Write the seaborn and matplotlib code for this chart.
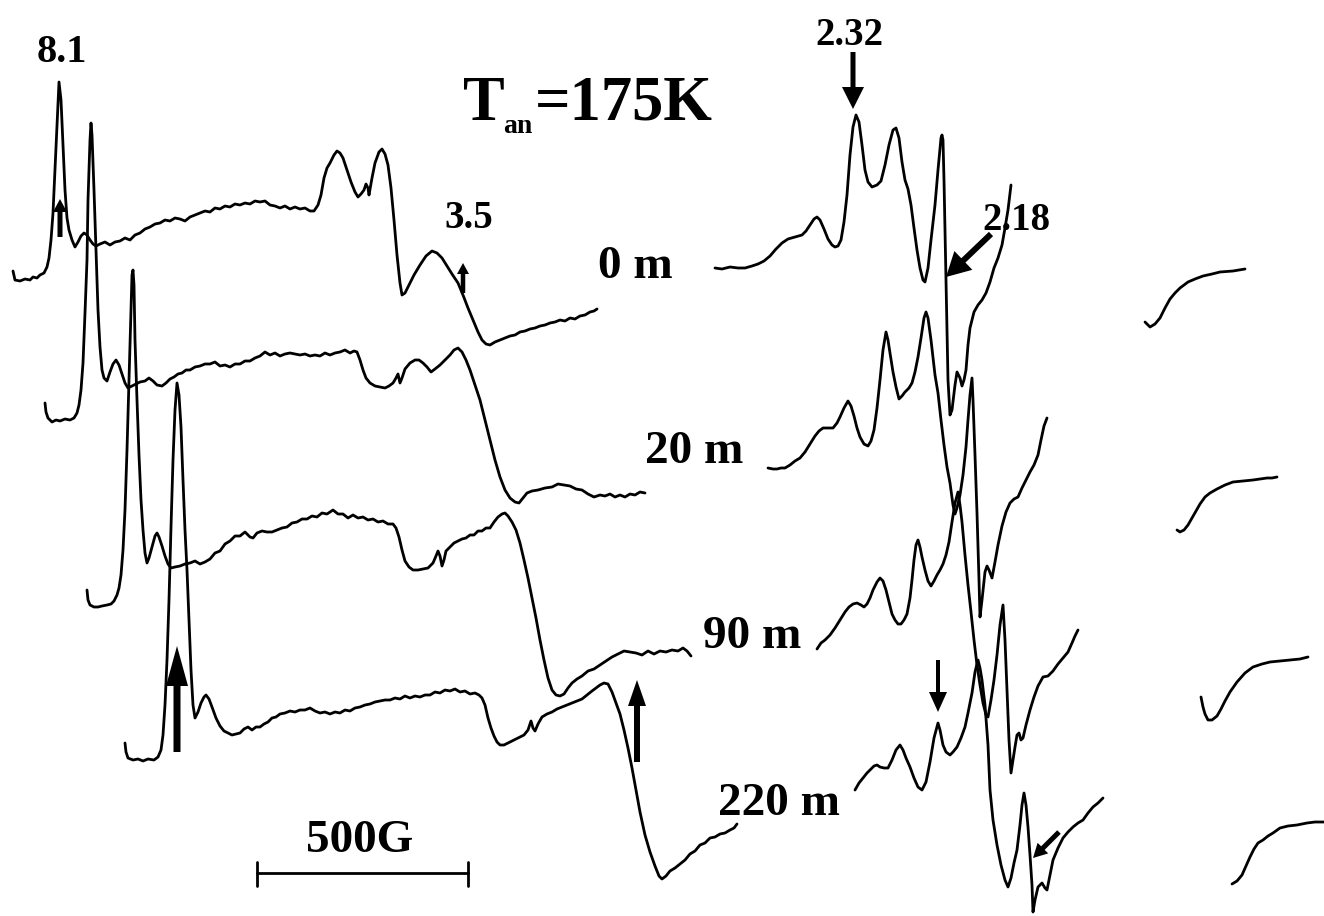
import numpy as np
import pandas as pd
import matplotlib
matplotlib.use("Agg")
import matplotlib.pyplot as plt
import seaborn as sns

# ---------------- data (field position, signal) ----------------
# 0 m spectrum
s0_lo_x = [13, 15, 20, 25, 30, 33, 37, 40, 44, 47, 49, 51, 53, 55, 57, 59, 61, 63, 65, 67, 69, 72, 75, 78, 81, 84, 87, 90, 93, 96,
           100, 105, 110, 115, 120, 125, 130, 135, 140, 145, 150, 155, 160, 165, 170, 175, 180, 185, 190, 195, 200, 205, 210,
           215, 220, 225, 230, 235, 240, 245, 250, 255, 260, 265, 270, 275, 280, 285, 290, 295, 300, 305, 310, 314,
           318, 321, 324, 327, 330, 334, 337, 340, 343, 347, 351, 355, 358, 361, 364, 366, 368, 369, 372, 375, 379, 382, 385,
           388, 391, 394, 397, 400, 402, 405, 409, 414, 420, 426, 432, 437, 442, 447, 452, 458, 463, 468, 473, 478, 482, 486,
           490, 495, 500, 505, 510, 515, 520, 525, 530, 535, 540, 545, 550, 555, 560, 565, 570, 575, 580, 585, 590, 594, 597]
s0_lo_y = [271, 280, 281, 279, 280, 277, 278, 275, 273, 267, 258, 240, 213, 170, 125, 82, 100, 145, 190, 218, 230, 240, 247, 242,
           236, 233, 235, 240, 244, 246,
           244, 242, 245, 242, 241, 238, 240, 235, 233, 229, 227, 224, 223, 220, 221, 218, 219, 221, 217, 215, 213, 211, 212,
           208, 209, 206, 207, 204, 205, 203, 204, 201, 202, 201, 205, 206, 208, 206, 209, 207, 209, 208, 211, 211,
           205, 195, 178, 168, 163, 155, 151, 153, 158, 170, 182, 192, 197, 194, 190, 184, 188, 195, 178, 163, 152, 149, 154,
           165, 188, 220, 255, 283, 295, 293, 285, 275, 265, 256, 251, 253, 258, 266, 274, 283, 295, 308, 320, 332, 340, 344,
           345, 342, 340, 338, 336, 335, 332, 331, 329, 328, 326, 325, 323, 322, 320, 321, 318, 319, 316, 315, 312, 311, 309]
s0_mid_x = [715, 722, 730, 738, 745, 752, 758, 764, 770, 776, 782, 788, 795, 802, 806, 810, 814, 817, 820, 824, 828, 832, 835, 838,
            841, 844, 847, 850, 853, 856, 859, 862, 865, 868, 872, 877, 881, 885, 889, 893, 896, 899, 902, 905, 908, 911, 914,
            917, 920, 923, 925, 928, 931, 935, 938, 941, 942, 943, 944, 945, 946, 947, 948, 950, 952, 955, 957, 960, 962, 964,
            966, 968, 970, 974, 978, 982, 986, 990, 994, 998, 1002, 1005, 1008, 1011]
s0_mid_y = [268, 269, 267, 268, 268, 266, 264, 261, 256, 249, 243, 239, 237, 235, 231, 225, 219, 217, 220, 229, 239, 245, 247, 246,
            240, 222, 195, 155, 127, 115, 122, 145, 170, 182, 187, 185, 181, 165, 145, 130, 128, 138, 162, 180, 189, 205, 228,
            250, 268, 280, 282, 268, 240, 205, 170, 138, 135, 140, 180, 230, 280, 330, 380, 415, 410, 385, 372, 378, 386, 380,
            370, 345, 328, 312, 305, 300, 293, 282, 268, 258, 245, 228, 210, 185]
s0_hi_x = [1145, 1150, 1155, 1160, 1165, 1170, 1175, 1180, 1188, 1195, 1203, 1212, 1220, 1233, 1245]
s0_hi_y = [322, 327, 324, 318, 308, 299, 293, 288, 282, 279, 276, 274, 272, 271, 269]

# 20 m spectrum
s1_lo_x = [45, 46, 48, 52, 56, 60, 65, 70, 74, 77, 79, 81, 83, 85, 87, 88, 90, 91, 92, 94, 96, 98, 100, 102, 104, 107, 110, 113,
           116, 119, 122, 125, 128, 132, 136, 140, 145, 149, 153, 157, 162, 166, 170, 174, 178, 182, 186, 190, 195, 200, 205,
           210, 215, 220, 225, 230, 235, 240, 245, 250, 255, 260, 265, 270, 275, 280, 285, 290, 295, 300, 305, 310, 315, 320,
           325, 330, 335, 340, 345, 350, 354, 357, 360, 363, 366, 370, 375, 380, 385, 389, 393, 396, 398, 400, 402, 405, 410,
           415, 419, 423, 427, 431, 435, 440, 445, 450, 454, 458, 462, 466, 470, 475, 480, 485, 490, 495, 500, 505, 510, 515,
           519, 523, 527, 532, 538, 545, 552, 558, 564, 570, 576, 582, 588, 594, 600, 605, 610, 615, 620, 625, 630, 635, 640, 645]
s1_lo_y = [403, 412, 418, 422, 420, 421, 419, 420, 418, 413, 405, 390, 363, 313, 260, 200, 140, 123, 135, 190, 250, 310, 347, 370,
           378, 381, 372, 364, 360, 365, 374, 383, 388, 386, 384, 382, 381, 378, 381, 385, 386, 383, 379, 377, 374, 373, 370,
           370, 367, 366, 364, 364, 362, 366, 365, 367, 364, 364, 361, 361, 358, 356, 352, 355, 353, 356, 354, 353, 354, 355,
           354, 356, 355, 356, 353, 355, 353, 352, 350, 353, 351, 352, 360, 370, 378, 383, 386, 387, 388, 386, 383, 378, 374,
           383, 378, 369, 363, 360, 360, 363, 367, 372, 369, 365, 360, 355, 350, 348, 352, 360, 370, 385, 400, 420, 440, 460,
           477, 490, 498, 502, 503, 498, 493, 491, 490, 488, 487, 484, 485, 486, 489, 490, 494, 497, 495, 496, 494, 497, 495,
           497, 494, 495, 492, 493]
s1_mid_x = [768, 773, 777, 781, 785, 790, 795, 800, 805, 810, 815, 819, 823, 828, 833, 837, 840, 844, 848, 851, 854, 857, 860, 864,
            868, 871, 874, 877, 880, 883, 886, 888, 890, 893, 896, 899, 902, 905, 909, 912, 915, 918, 921, 924, 926, 928, 931,
            935, 938, 941, 944, 947, 950, 953, 955, 957, 960, 963, 966, 968, 970, 972, 973, 975, 977, 979, 980, 982, 985, 987,
            989, 992, 995, 998, 1002, 1006, 1010, 1014, 1018, 1022, 1026, 1030, 1034, 1038, 1041, 1044, 1047]
s1_mid_y = [468, 469, 469, 468, 468, 465, 461, 458, 452, 444, 436, 431, 428, 428, 428, 423, 417, 408, 401, 406, 416, 428, 437, 444,
            446, 441, 430, 408, 380, 350, 332, 340, 353, 372, 387, 399, 396, 392, 388, 383, 372, 357, 338, 318, 312, 318, 340,
            375, 393, 420, 445, 467, 483, 505, 514, 508, 495, 475, 447, 420, 395, 378, 400, 455, 513, 580, 617, 600, 572, 566,
            570, 578, 562, 545, 526, 512, 503, 499, 497, 488, 480, 472, 465, 455, 440, 426, 418]
s1_hi_x = [1177, 1180, 1184, 1188, 1192, 1196, 1200, 1205, 1210, 1217, 1225, 1233, 1243, 1253, 1260, 1267, 1272, 1277]
s1_hi_y = [530, 532, 530, 525, 518, 511, 504, 497, 493, 489, 485, 482, 481, 480, 479, 478, 478, 477]

# 90 m spectrum
s2_lo_x = [87, 88, 90, 94, 98, 102, 107, 111, 114, 117, 119, 121, 123, 125, 127, 129, 131, 132, 133, 134, 135, 137, 139, 141, 143,
           145, 147, 149, 152, 155, 157, 159, 162, 165, 168, 171, 175, 180, 185, 190, 195, 200, 205, 210, 215, 220, 225, 230,
           235, 240, 245, 250, 253, 257, 262, 267, 272, 277, 282, 287, 292, 297, 302, 307, 312, 317, 322, 327, 333, 338, 343,
           348, 353, 358, 363, 368, 373, 378, 383, 388, 393, 396, 399, 402, 405, 409, 413, 418, 423, 428, 433, 436, 438, 440,
           442, 444, 446, 450, 454, 458, 462, 466, 470, 474, 478, 482, 486, 490, 494, 498, 502, 505, 508, 512, 516, 520, 524,
           528, 532, 536, 540, 544, 548, 552, 556, 560, 564, 568, 572, 577, 582, 588, 594, 600, 606, 612, 618, 624, 630, 636,
           642, 648, 654, 660, 666, 672, 678, 683, 687, 691]
s2_lo_y = [590, 600, 605, 607, 607, 606, 605, 604, 601, 595, 588, 575, 550, 510, 450, 380, 310, 275, 270, 285, 340, 400, 455, 500,
           530, 553, 563, 558, 547, 536, 533, 537, 546, 556, 564, 568, 567, 566, 564, 563, 561, 564, 562, 559, 553, 551, 544,
           541, 536, 536, 532, 537, 538, 533, 531, 532, 532, 530, 528, 527, 523, 522, 519, 519, 516, 517, 513, 514, 510, 514,
           514, 518, 515, 518, 517, 520, 519, 522, 521, 524, 524, 528, 537, 550, 561, 567, 570, 570, 569, 568, 563, 556, 551,
           556, 566, 560, 551, 547, 543, 541, 539, 538, 535, 535, 531, 531, 528, 528, 522, 517, 514, 513, 516, 522, 530, 543,
           560, 578, 598, 618, 640, 660, 678, 690, 695, 696, 694, 688, 683, 679, 676, 671, 669, 665, 661, 657, 654, 651, 652,
           653, 655, 651, 654, 651, 652, 650, 651, 648, 651, 656]
s2_mid_x = [817, 821, 825, 830, 835, 840, 845, 849, 853, 857, 861, 864, 867, 870, 873, 877, 880, 883, 886, 889, 892, 895, 898, 901,
            904, 907, 910, 912, 914, 916, 918, 920, 922, 925, 928, 931, 934, 937, 940, 943, 946, 949, 952, 955, 958, 960, 962,
            965, 968, 971, 974, 977, 980, 983, 986, 988, 991, 994, 997, 1000, 1003, 1005, 1007, 1009, 1011, 1013, 1015, 1017,
            1019, 1021, 1023, 1026, 1030, 1034, 1038, 1043, 1048, 1053, 1058, 1063, 1068, 1072, 1075, 1078]
s2_mid_y = [649, 643, 640, 635, 628, 620, 612, 607, 604, 603, 605, 607, 604, 598, 590, 582, 578, 581, 590, 602, 614, 620, 624, 624,
            620, 614, 598, 580, 560, 545, 540, 547, 557, 570, 581, 586, 581, 575, 570, 564, 555, 542, 522, 503, 492, 505, 522,
            555, 585, 612, 640, 665, 685, 703, 715, 717, 700, 680, 655, 625, 605, 640, 690, 740, 773, 760, 747, 735, 733, 740,
            738, 725, 710, 697, 686, 677, 676, 671, 664, 658, 652, 643, 636, 630]
s2_hi_x = [1201, 1203, 1205, 1208, 1212, 1217, 1221, 1225, 1230, 1237, 1245, 1253, 1262, 1270, 1280, 1290, 1300, 1308]
s2_hi_y = [697, 707, 714, 720, 720, 716, 709, 701, 692, 682, 673, 667, 664, 662, 661, 660, 659, 657]

# 220 m spectrum
s3_lo_x = [125, 126, 128, 133, 138, 143, 148, 154, 158, 161, 163, 165, 167, 169, 171, 173, 175, 177, 179, 181, 183, 185, 187, 189,
           191, 193, 195, 198, 201, 204, 206, 209, 212, 216, 220, 224, 228, 232, 236, 240, 244, 248, 252, 256, 260, 264, 268,
           272, 276, 280, 285, 290, 295, 300, 305, 310, 315, 320, 325, 330, 335, 340, 345, 350, 355, 360, 365, 370, 375, 380,
           385, 390, 395, 400, 405, 410, 415, 420, 425, 430, 435, 440, 445, 450, 455, 460, 465, 470, 475, 479, 482, 485, 488,
           491, 494, 497, 500, 504, 508, 512, 516, 520, 524, 528, 531, 533, 535, 538, 542, 547, 552, 557, 562, 567, 572, 577,
           582, 587, 592, 596, 600, 604, 608, 612, 616, 620, 624, 628, 632, 636, 640, 645, 650, 655, 659, 662, 666, 670, 675,
           680, 685, 690, 695, 700, 705, 710, 715, 720, 725, 730, 734, 737]
s3_lo_y = [743, 752, 758, 760, 759, 761, 759, 760, 757, 750, 735, 705, 660, 600, 527, 460, 410, 383, 395, 427, 480, 530, 570, 620,
           670, 705, 718, 712, 703, 697, 695, 699, 707, 718, 726, 731, 733, 735, 734, 733, 729, 727, 730, 727, 727, 724, 722,
           718, 717, 714, 713, 711, 712, 710, 710, 708, 711, 713, 712, 714, 712, 713, 710, 711, 708, 707, 705, 704, 702, 701,
           700, 700, 698, 699, 696, 698, 696, 697, 695, 695, 692, 693, 690, 691, 689, 692, 691, 694, 693, 695, 698, 705, 718,
           728, 736, 742, 745, 745, 743, 741, 739, 737, 735, 730, 721, 728, 731, 724, 717, 714, 712, 709, 707, 705, 703, 701,
           699, 695, 691, 688, 685, 683, 684, 692, 703, 714, 730, 748, 768, 790, 812, 835, 852, 866, 876, 879, 876, 871, 868,
           864, 860, 854, 851, 845, 843, 838, 837, 834, 833, 830, 828, 824]
s3_mid_x = [855, 859, 863, 867, 871, 874, 877, 880, 884, 888, 892, 896, 900, 903, 906, 910, 914, 918, 922, 926, 930, 934, 938, 940,
            943, 946, 950, 953, 957, 961, 965, 968, 972, 975, 978, 980, 982, 985, 988, 990, 993, 997, 1001, 1005, 1008, 1011,
            1014, 1017, 1020, 1022, 1024, 1026, 1028, 1030, 1032, 1033, 1035, 1038, 1042, 1045, 1047, 1050, 1053, 1058, 1063,
            1068, 1073, 1078, 1083, 1088, 1093, 1098, 1103]
s3_mid_y = [790, 783, 778, 773, 769, 766, 765, 767, 768, 768, 760, 750, 745, 750, 758, 767, 778, 787, 790, 782, 762, 738, 723, 730,
            745, 752, 755, 752, 747, 738, 727, 713, 693, 672, 660, 668, 680, 705, 745, 790, 820, 845, 865, 880, 887, 878,
            863, 850, 825, 805, 793, 805, 827, 855, 885, 912, 900, 887, 883, 888, 890, 875, 860, 848, 838,
            832, 827, 823, 820, 813, 807, 803, 798]
s3_hi_x = [1232, 1237, 1242, 1246, 1250, 1254, 1258, 1263, 1268, 1273, 1280, 1288, 1297, 1307, 1315, 1324]
s3_hi_y = [884, 881, 875, 866, 857, 849, 843, 840, 836, 833, 828, 826, 825, 823, 822, 822]

# annotation texts
time_labels = ["0 m", "20 m", "90 m", "220 m"]
g_labels = ["8.1", "3.5", "2.32", "2.18"]
scale_label = "500G"

# ---------------- assemble ----------------
segments = [
    ("0m_lo", s0_lo_x, s0_lo_y), ("0m_mid", s0_mid_x, s0_mid_y), ("0m_hi", s0_hi_x, s0_hi_y),
    ("20m_lo", s1_lo_x, s1_lo_y), ("20m_mid", s1_mid_x, s1_mid_y), ("20m_hi", s1_hi_x, s1_hi_y),
    ("90m_lo", s2_lo_x, s2_lo_y), ("90m_mid", s2_mid_x, s2_mid_y), ("90m_hi", s2_hi_x, s2_hi_y),
    ("220m_lo", s3_lo_x, s3_lo_y), ("220m_mid", s3_mid_x, s3_mid_y), ("220m_hi", s3_hi_x, s3_hi_y),
]
frames = []
for name, xs, ys in segments:
    assert len(xs) == len(ys), name
    frames.append(pd.DataFrame({"x": xs, "y": ys, "seg": name}))
df = pd.concat(frames, ignore_index=True)

sns.set_theme(style="white")
plt.rcParams["font.family"] = ["Liberation Serif", "DejaVu Serif"]

fig = plt.figure(figsize=(13.24, 9.16), dpi=100)
ax = fig.add_axes([0, 0, 1, 1])
sns.lineplot(data=df, x="x", y="y", units="seg", estimator=None, sort=False,
             color="black", linewidth=2.0, ax=ax, legend=False)
ax.set_xlim(0, 1324)
ax.set_ylim(916, 0)
ax.axis("off")

txt = dict(fontweight="bold", color="black", va="baseline")
# title
ax.text(463, 120, "T", fontsize=45, ha="left", **txt)
ax.text(503, 133, "an", fontsize=20, ha="left", **txt)
ax.text(535, 120, "=175K", fontsize=45, ha="left", **txt)
# g-value labels
ax.text(62, 62, g_labels[0], fontsize=29, ha="center", **txt)
ax.text(469, 228, g_labels[1], fontsize=28, ha="center", **txt)
ax.text(849, 45, g_labels[2], fontsize=28, ha="center", **txt)
ax.text(1016, 230, g_labels[3], fontsize=28, ha="center", **txt)
# time labels
ax.text(598, 278, time_labels[0], fontsize=34, ha="left", **txt)
ax.text(645, 463, time_labels[1], fontsize=34, ha="left", **txt)
ax.text(703, 648, time_labels[2], fontsize=34, ha="left", **txt)
ax.text(718, 815, time_labels[3], fontsize=34, ha="left", **txt)
# scale bar
ax.text(360, 852, scale_label, fontsize=34, ha="center", **txt)
ax.plot([257, 468], [873, 873], color="black", lw=2.0)
ax.plot([257, 257], [862, 886], color="black", lw=2.0)
ax.plot([468, 468], [862, 886], color="black", lw=2.0)

# arrows: tail x, tail y, tip x, tip y, shaft width, head width, head length
arrows = [
    (60, 237, 60, 199, 5, 14, 13),
    (463, 293, 463, 263, 4.5, 12, 11),
    (853, 52, 853, 109, 5, 22, 22),
    (991, 234, 946, 277, 6, 26, 24),
    (177, 752, 177, 646, 7, 22, 40),
    (637, 762, 637, 680, 6, 18, 26),
    (938, 660, 938, 712, 4, 18, 20),
    (1059, 832, 1033, 858, 5, 15, 14),
]
for x0, y0, x1, y1, w, hw, hl in arrows:
    ax.arrow(x0, y0, x1 - x0, y1 - y0, width=w, head_width=hw, head_length=hl,
             length_includes_head=True, color="black", lw=0)

fig.savefig("out.png", dpi=100, facecolor="white")
